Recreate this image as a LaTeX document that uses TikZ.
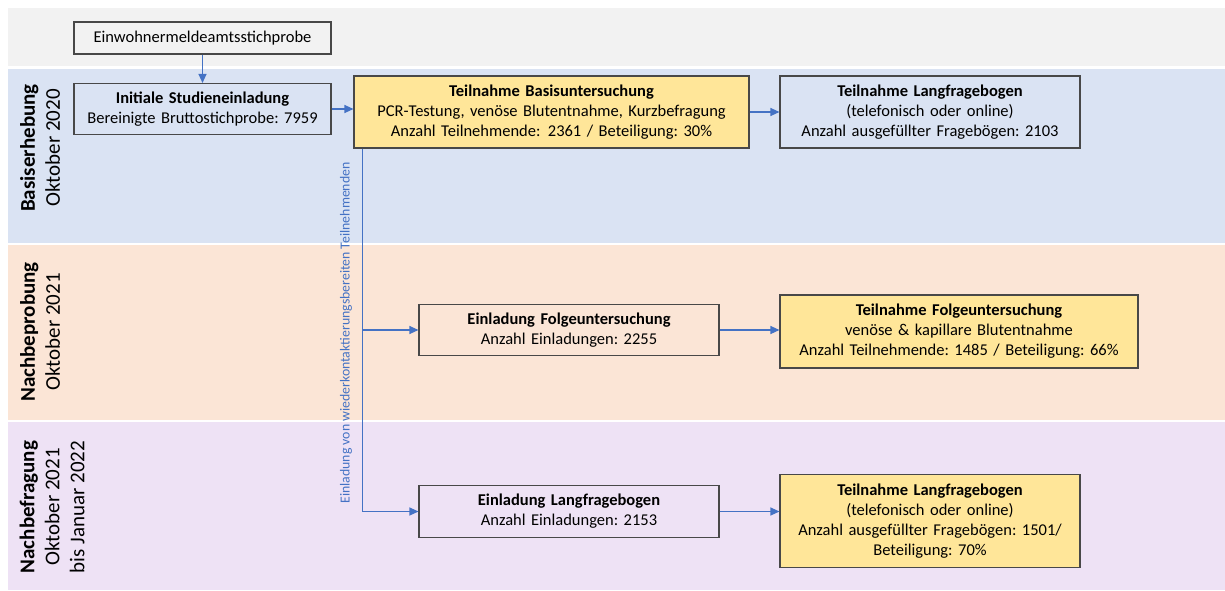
\documentclass[tikz,border=0pt]{standalone}
\usepackage{fontspec}
\setmainfont{Carlito}
\usetikzlibrary{arrows.meta}
\frenchspacing

\definecolor{lanegrey}{HTML}{F2F2F2}
\definecolor{laneblue}{HTML}{DAE3F3}
\definecolor{lanepeach}{HTML}{FBE5D6}
\definecolor{lanelilac}{HTML}{EEE2F5}
\definecolor{boxyellow}{HTML}{FFE699}
\definecolor{boxline}{HTML}{484848}
\definecolor{flowblue}{HTML}{4472C4}

\begin{document}
\begin{tikzpicture}[x=1pt, y=-1pt,
        box/.style={draw=boxline, line width=1.1pt, inner sep=0pt, align=center, font=\fontsize{16.5}{20}\selectfont},
        result/.style={box, fill=boxyellow},
        lanelabel/.style={rotate=90, inner sep=0pt, align=center, font=\fontsize{21}{25}\selectfont},
        flow/.style={draw=flowblue, line width=1.1pt, -{Triangle[length=9pt, width=8pt]}}]
        \useasboundingbox (0,0) rectangle (1225,590);

        % lanes
        \fill[lanegrey]  (8,8)   rectangle (1225,66);
        \fill[laneblue]  (8,69)  rectangle (1225,243);
        \fill[lanepeach] (8,245) rectangle (1225,420);
        \fill[lanelilac] (8,422) rectangle (1225,590);

        \node (lblBasis)   at (40,148) [lanelabel] {\textbf{Basiserhebung}\\Oktober 2020};
        \node (lblProbe)   at (40,332) [lanelabel] {\textbf{Nachbeprobung}\\Oktober 2021};
        \node (lblFrage)   at (52,507) [lanelabel] {\textbf{Nachbefragung}\\Oktober 2021\\bis Januar 2022};

        % boxes
        \node (einw)   at (202.5,38)  [box, text width=257pt, minimum height=32pt] {Einwohnermeldeamtsstichprobe};
        \node (init)   at (202.5,109) [box, text width=257pt, minimum height=51pt] {\textbf{Initiale Studieneinladung}\\Bereinigte Bruttostichprobe: 7959};
        \node (basis)  at (551.5,112) [result, text width=395pt, minimum height=72pt] {\textbf{Teilnahme Basisuntersuchung}\\PCR-Testung, venöse Blutentnahme, Kurzbefragung\\Anzahl Teilnehmende:\hspace{0.45em}2361 / Beteiligung: 30\%};
        \node (langA)  at (930,112)   [box, text width=300pt, minimum height=72pt] {\textbf{Teilnahme Langfragebogen}\\(telefonisch oder online)\\Anzahl ausgefüllter Fragebögen: 2103};
        \node (einlF)  at (569,330)   [box, text width=300pt, minimum height=51pt] {\textbf{Einladung Folgeuntersuchung}\\Anzahl Einladungen: 2255};
        \node (folge)  at (959,331.5) [result, text width=358pt, minimum height=73pt] {\textbf{Teilnahme Folgeuntersuchung}\\venöse \& kapillare Blutentnahme\\Anzahl Teilnehmende: 1485 / Beteiligung: 66\%};
        \node (einlL)  at (569,511.5) [box, text width=300pt, minimum height=52pt] {\textbf{Einladung Langfragebogen}\\Anzahl Einladungen: 2153};
        \node (langB)  at (930,521)   [result, text width=300pt, minimum height=93pt] {\textbf{Teilnahme Langfragebogen}\\(telefonisch oder online)\\Anzahl ausgefüllter Fragebögen: 1501/\\Beteiligung: 70\%};

        \coordinate (tap) at ([xshift=9pt]basis.south west);
        \node (lblInvite) at (346,333) [rotate=90, inner sep=0pt, text=flowblue, font=\fontsize{13.8}{16}\selectfont] {Einladung von wiederkontaktierungsbereiten Teilnehmenden};

        % connectors
        \draw[flow] (einw)       to (init);
        \draw[flow] (init.east)  to (init.east -| basis.west);
        \draw[flow] (basis)      to (langA);
        \draw[flow] (tap)        |- (einlF.west);
        \draw[flow] (tap)        |- (einlL.west);
        \draw[flow] (einlF.east) to (einlF.east -| folge.west);
        \draw[flow] (einlL.east) to (einlL.east -| langB.west);
    \end{tikzpicture}
\end{document}
